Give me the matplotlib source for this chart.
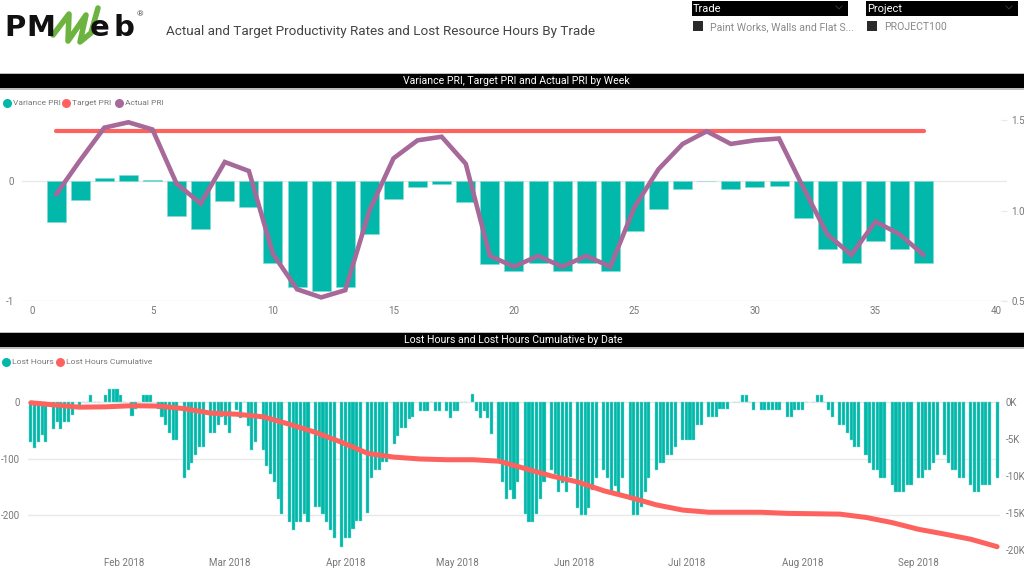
import matplotlib
matplotlib.use('Agg')
import matplotlib.pyplot as plt
import matplotlib.dates as mdates
from matplotlib.patches import Rectangle
import numpy as np
import pandas as pd

plt.rcParams['font.family'] = ['Roboto', 'DejaVu Sans']

# weekly PRI chart
weeks = list(range(1, 38))
variance_pri = [-0.34, -0.16, 0.02, 0.05, 0.01, -0.29, -0.40, -0.17, -0.22, -0.68,
                -0.88, -0.92, -0.88, -0.44, -0.15, -0.05, -0.03, -0.18, -0.69, -0.75,
                -0.68, -0.75, -0.68, -0.75, -0.42, -0.23, -0.07, 0.0, -0.07, -0.05,
                -0.04, -0.31, -0.57, -0.68, -0.50, -0.57, -0.68]
target_pri = [1.44] * 37
actual_pri = [1.09, 1.28, 1.46, 1.49, 1.45, 1.15, 1.04, 1.27, 1.22, 0.76,
              0.565, 0.52, 0.56, 1.00, 1.29, 1.39, 1.41, 1.26, 0.75, 0.69,
              0.75, 0.69, 0.75, 0.69, 1.02, 1.23, 1.37, 1.44, 1.37, 1.39,
              1.40, 1.13, 0.87, 0.755, 0.94, 0.87, 0.755]

# daily lost hours, one row per work week (Fridays off)
lost_hours = [
    -70, -82, -70, -59, -70,
    -47, -35, -47, -35, -35, -23,
    -6, 0, 0, 12, 0, 0,
    12, 23, 23, 23, 12, 0,
    -25, -12, 0, 12, 12, 12,
    -13, -27, -41, -54, -67, -67,
    -134, -120, -107, -94, -80, -80,
    -54, -54, -41, -27, -41, -54,
    -14, -29, 0, -43, -85, -71,
    -85, -114, -128, -142, -171, -199,
    -213, -227, -213, -213, -199, -213,
    -185, -185, -199, -213, -227, -241,
    -256, -240, -240, -225, -210, -210,
    -196, -135, -120, -120, -106, -106,
    -75, -60, -45, -45, -30, -27,
    -15, -15, -15, 0, -15, -15,
    -15, -28, -15, -15, 0, 0,
    14, -15, -28, -15, -28, -57,
    -100, -142, -171, -156, -171, -142,
    -199, -213, -213, -199, -171, -142,
    -120, -128, -160, -144, -160, -132,
    -187, -200, -200, -187, -156, -134,
    -120, -134, -162, -148, -162, -134,
    -174, -200, -200, -186, -160, -134,
    -120, -107, -107, -94, -94, -80,
    -67, -67, -67, -67, -41, -41,
    -27, -27, -27, -13, -13, -13,
    0, 0, 13, 13, 0, -14,
    -14, -14, -14, -14, -14, -14,
    -27, -27, -14, -14, -14, 0,
    0, 13, 13, 0, -14, -27,
    -41, -41, -54, -67, -80, -80,
    -94, -107, -121, -121, -134, -134,
    -147, -160, -160, -160, -147, -147,
    -134, -134, -121, -121, -107, -94,
    -94, -107, -121, -121, -134, -134,
    -147, -160, -160, -147, -147, -147,
    -134,
]
cumulative_dates = ['2018-01-07', '2018-01-13', '2018-01-20', '2018-01-27', '2018-02-03',
                    '2018-02-10', '2018-02-17', '2018-02-24', '2018-03-03', '2018-03-10',
                    '2018-03-17', '2018-03-24', '2018-03-31', '2018-04-07', '2018-04-14',
                    '2018-04-21', '2018-04-28', '2018-05-05', '2018-05-12', '2018-05-19',
                    '2018-05-26', '2018-06-02', '2018-06-09', '2018-06-16', '2018-06-23',
                    '2018-06-30', '2018-07-07', '2018-07-14', '2018-07-21', '2018-07-28',
                    '2018-08-04', '2018-08-11', '2018-08-18', '2018-08-25', '2018-09-01',
                    '2018-09-08', '2018-09-15', '2018-09-22']
lost_cumulative = [-100, -380, -700, -650, -500, -550, -900, -1500, -1650, -2000,
                   -3000, -4100, -5450, -6950, -7450, -7700, -7800, -7800, -8000, -9000,
                   -10000, -10800, -12000, -12900, -13900, -14600, -14900, -14900, -14900,
                   -15050, -15100, -15150, -15600, -16300, -17200, -17850, -18550, -19550]

TEAL = '#01B8AA'
RED = '#FD625E'
PURPLE = '#A66999'
GRID = '#E9E9E9'
LABEL = '#777777'

W, H = 1024, 577


def axes_rect(left, top, right, bottom):
    """pixel box -> figure fractions"""
    return [left / W, 1 - bottom / H, (right - left) / W, (bottom - top) / H]


def clean_axes(ax):
    for side in ax.spines:
        ax.spines[side].set_visible(False)
    ax.patch.set_visible(False)


fig = plt.figure(figsize=(W / 100, H / 100), dpi=100, facecolor='white')

# --- upper chart ---
ax1 = fig.add_axes(axes_rect(22, 110, 1007, 301))
clean_axes(ax1)
ax1.bar(weeks, variance_pri, width=0.79, color=TEAL, edgecolor='#7FDBD4', linewidth=0.4)
ax1.set_xlim(-0.415, 40.46)
ax1.set_ylim(-1, 0.59)
ax1.set_xticks(range(0, 41, 5))
ax1.set_yticks([-1, 0])
ax1.set_yticklabels(['-1', '0'])
ax1.grid(axis='y', color=GRID, linewidth=1)
ax1.set_axisbelow(True)
ax1.tick_params(axis='both', length=0, labelsize=7, labelcolor=LABEL)
ax1.tick_params(axis='x', pad=3.5)
ax1.tick_params(axis='y', pad=6)

ax1r = ax1.twinx()
clean_axes(ax1r)
ax1r.plot(weeks, target_pri, color=RED, linewidth=3, solid_capstyle='round')
ax1r.plot(weeks, actual_pri, color=PURPLE, linewidth=3.3, solid_capstyle='round',
          solid_joinstyle='miter')
ax1r.set_ylim(0.5, 1.558)
ax1r.set_yticks([0.5, 1.0, 1.5])
ax1r.set_yticklabels(['0.5', '1.0', '1.5'])
ax1r.tick_params(axis='y', length=4, width=0.8, color=GRID, labelsize=7,
                 labelcolor=LABEL, pad=3, direction='in')

# --- lower chart ---
days = pd.date_range('2018-01-07', '2018-09-22')
days = days[days.dayofweek != 4]
first_day = mdates.date2num(pd.Timestamp('2018-01-07'))

ax2 = fig.add_axes(axes_rect(28, 375, 1000, 550))
clean_axes(ax2)
ax2.bar(days, lost_hours, width=0.82, color=TEAL, edgecolor='#7FDBD4', linewidth=0.3)
ax2.set_xlim(first_day - 2.9 / 3.745, first_day + (1000 - 30.9) / 3.745)
ax2.set_ylim(-262, 48)
ax2.set_yticks([-200, -100, 0])
ax2.set_yticklabels(['-200', '-100', '0'])
ax2.grid(axis='y', color=GRID, linewidth=1)
ax2.set_axisbelow(True)
ax2.set_xticks(pd.date_range('2018-02-01', '2018-09-01', freq='MS'))
ax2.xaxis.set_major_formatter(mdates.DateFormatter('%b %Y'))
ax2.tick_params(axis='both', length=0, labelsize=7, labelcolor=LABEL)
ax2.tick_params(axis='x', pad=5.5)
ax2.tick_params(axis='y', pad=5.8)

ax2r = ax2.twinx()
clean_axes(ax2r)
ax2r.plot(pd.to_datetime(cumulative_dates), lost_cumulative, color=RED, linewidth=3.6,
          solid_capstyle='round')
ax2r.set_ylim(-20000, 3650)
ax2r.set_yticks([-20000, -15000, -10000, -5000, 0])
ax2r.set_yticklabels(['-20K', '-15K', '-10K', '-5K', '0K'])
ax2r.tick_params(axis='y', length=0, labelsize=7, labelcolor=LABEL, pad=4)

# --- page furniture, drawn in pixel coordinates ---
page = fig.add_axes([0, 0, 1, 1], zorder=5)
page.set_xlim(0, W)
page.set_ylim(H, 0)
page.axis('off')

# title bands
for top, bottom, text, cx in [(74, 88, 'Variance PRI, Target PRI and Actual PRI by Week', 516),
                              (333, 347, 'Lost Hours and Lost Hours Cumulative by Date', 513)]:
    page.add_patch(Rectangle((0, top - 1.5), W, bottom - top + 3, color='#BDBDBD', linewidth=0))
    page.add_patch(Rectangle((0, top), W, bottom - top, color='black', linewidth=0))
    page.text(cx, (top + bottom) / 2 - 0.3, text, color='white', fontsize=7.6,
              ha='center', va='center')

# legends
for x, color, text in [(7, TEAL, 'Variance PRI'), (66, RED, 'Target PRI'), (119, PURPLE, 'Actual PRI')]:
    page.plot([x], [103], 'o', color=color, markersize=6.5, markeredgewidth=0)
    page.text(x + 6, 103, text, color=LABEL, fontsize=6, va='center')
for x, color, text in [(6, TEAL, 'Lost Hours'), (60, RED, 'Lost Hours Cumulative')]:
    page.plot([x], [362], 'o', color=color, markersize=6.5, markeredgewidth=0)
    page.text(x + 6, 362, text, color=LABEL, fontsize=6.1, va='center')

# report title
page.text(166, 31, 'Actual and Target Productivity Rates and Lost Resource Hours By Trade',
          color='#444444', fontsize=9.7, va='center')

# slicers
for x0, x1, name, item in [(692, 848, 'Trade', 'Paint Works, Walls and Flat S...'),
                           (866, 1018, 'Project', 'PROJECT100')]:
    page.add_patch(Rectangle((x0, 1), x1 - x0, 14.5, color='black', linewidth=0))
    page.text(x0 + 1, 9, name, color='white', fontsize=8, va='center')
    page.add_patch(Rectangle((x0 + 1, 21), 10, 10, color='#2A2A2A', linewidth=0))
    page.text(x0 + 18, 27, item, color='#8A8A8A', fontsize=7.6, va='center')
    page.plot([x1 - 12, x1 - 9, x1 - 6], [6, 9, 6], color='#333333', linewidth=0.7)

# logo
for x, letter in [(4, 'P'), (26, 'M'), (90, 'e'), (114, 'b')]:
    page.text(x, 36, letter, color='#111111', fontsize=21, fontweight='bold',
              family='DejaVu Sans', va='baseline', ha='left')
page.plot([53, 69, 68, 86, 80, 91, 98], [35, 14, 41, 15, 42, 33, 8], color='#6DB33F',
          linewidth=4, solid_joinstyle='round', solid_capstyle='round')
page.text(140, 14, '®', color='#555555', fontsize=6, ha='center', va='center')

fig.savefig('out.png', dpi=100, facecolor='white')
